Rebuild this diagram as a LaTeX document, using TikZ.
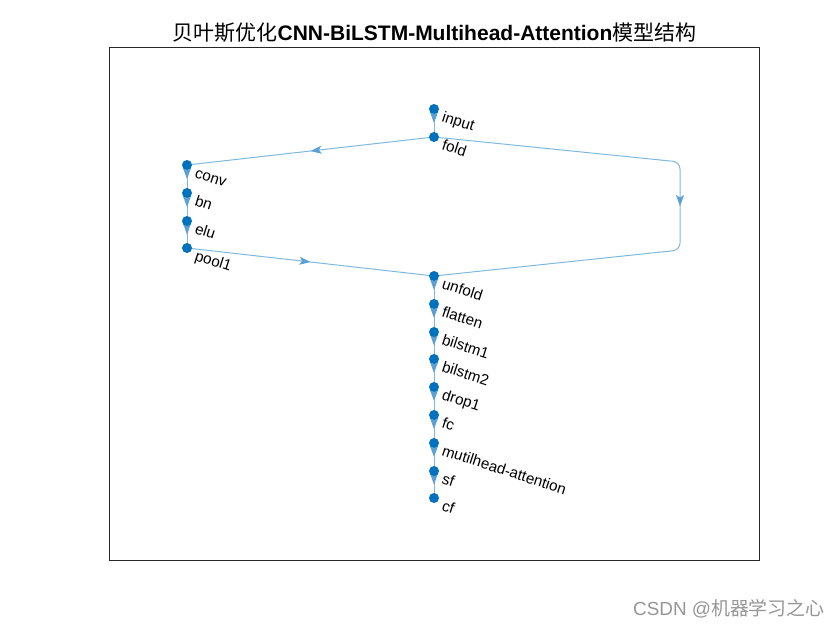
\documentclass[tikz,border=0pt]{standalone}
\usepackage{fontspec}
\setmainfont{Liberation Sans}
\newfontfamily\cjk{Noto Sans CJK SC}
\usetikzlibrary{arrows.meta,decorations.markings}
\definecolor{nodeblue}{RGB}{0,114,189}
\definecolor{edgeblue}{RGB}{128,185,222}
\definecolor{arrowblue}{RGB}{90,160,212}
\definecolor{axisgray}{RGB}{38,38,38}
\definecolor{wmgray}{RGB}{150,150,150}
\begin{document}
\begin{tikzpicture}[x=1pt,y=-1pt,
  dot/.style={circle,fill=nodeblue,inner sep=0pt,minimum size=10pt},
  lab/.style={anchor=base west,rotate=-18,inner sep=0pt,font=\fontsize{15.2}{18}\selectfont},
  edge/.style={draw=edgeblue,line width=1pt,postaction={decorate},
    decoration={markings,mark=at position 0.5 with {\arrow[arrowblue]{Stealth[length=11pt,width=8pt,inset=2.5pt]}}}}]
\useasboundingbox[fill=white] (0,0) rectangle (840,630);
% axes box
\draw[axisgray,line width=0.8pt] (109,47) rectangle (759,560);
% title
\node[anchor=base,inner sep=0pt,font=\fontsize{21}{24}\selectfont] (title) at (434.5,40)
  {{\cjk 贝叶斯优化}\textbf{CNN-BiLSTM-Multihead-Attention}{\cjk 模型结构}};
% watermark
\node[anchor=base west,inner sep=0pt,text=wmgray,font=\fontsize{18.9}{22}\selectfont] (wm) at (633,615)
  {CSDN @{\cjk 机器学习之心}};
% node coordinates
\coordinate (pinput) at (434,109);
\coordinate (pfold) at (434,137);
\coordinate (pconv) at (187,165);
\coordinate (pbn) at (187,193);
\coordinate (pelu) at (187,221);
\coordinate (ppool1) at (187,248);
\coordinate (punfold) at (434,276);
\coordinate (pflatten) at (434,304);
\coordinate (pbilstm1) at (434,332);
\coordinate (pbilstm2) at (434,359);
\coordinate (pdrop1) at (434,387);
\coordinate (pfc) at (434,415);
\coordinate (pmha) at (434,443);
\coordinate (psf) at (434,471);
\coordinate (pcf) at (434,498);
% edges
\path[edge] (pinput) -- (pfold);
\path[edge] (pfold) -- (pconv);
\path[edge] (pconv) -- (pbn);
\path[edge] (pbn) -- (pelu);
\path[edge] (pelu) -- (ppool1);
\path[edge] (ppool1) -- (punfold);
\path[edge,rounded corners=7pt] (pfold) -- (680,162) -- (680,250) -- (punfold);
\path[edge] (punfold) -- (pflatten);
\path[edge] (pflatten) -- (pbilstm1);
\path[edge] (pbilstm1) -- (pbilstm2);
\path[edge] (pbilstm2) -- (pdrop1);
\path[edge] (pdrop1) -- (pfc);
\path[edge] (pfc) -- (pmha);
\path[edge] (pmha) -- (psf);
\path[edge] (psf) -- (pcf);
% dots
\foreach \n in {input,fold,conv,bn,elu,pool1,unfold,flatten,bilstm1,bilstm2,drop1,fc,mha,sf,cf}
  \node[dot] (\n) at (p\n) {};
% labels
\node[lab] (linput) at ([xshift=7pt,yshift=-12pt]input.center) {input};
\node[lab] (lfold) at ([xshift=7pt,yshift=-12pt]fold.center) {fold};
\node[lab] (lconv) at ([xshift=7pt,yshift=-12pt]conv.center) {conv};
\node[lab] (lbn) at ([xshift=7pt,yshift=-12pt]bn.center) {bn};
\node[lab] (lelu) at ([xshift=7pt,yshift=-12pt]elu.center) {elu};
\node[lab] (lpool1) at ([xshift=7pt,yshift=-12pt]pool1.center) {pool1};
\node[lab] (lunfold) at ([xshift=7pt,yshift=-12pt]unfold.center) {unfold};
\node[lab] (lflatten) at ([xshift=7pt,yshift=-12pt]flatten.center) {flatten};
\node[lab] (lbilstm1) at ([xshift=7pt,yshift=-12pt]bilstm1.center) {bilstm1};
\node[lab] (lbilstm2) at ([xshift=7pt,yshift=-12pt]bilstm2.center) {bilstm2};
\node[lab] (ldrop1) at ([xshift=7pt,yshift=-12pt]drop1.center) {drop1};
\node[lab] (lfc) at ([xshift=7pt,yshift=-12pt]fc.center) {fc};
\node[lab] (lmha) at ([xshift=7pt,yshift=-12pt]mha.center) {mutilhead-attention};
\node[lab] (lsf) at ([xshift=7pt,yshift=-12pt]sf.center) {sf};
\node[lab] (lcf) at ([xshift=7pt,yshift=-12pt]cf.center) {cf};
\end{tikzpicture}
\end{document}
